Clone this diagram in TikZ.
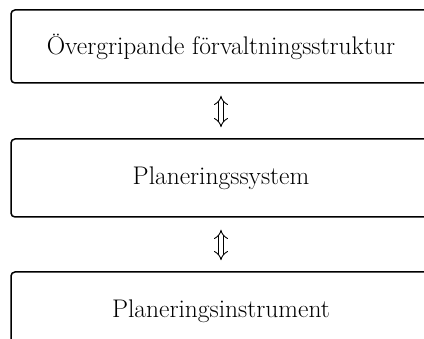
\documentclass[tikz,border=0pt]{standalone}
\usepackage{tikz}
\usetikzlibrary{arrows.meta,positioning}

\tikzset{
  levelbox/.style={draw, line width=1.5pt, rounded corners=4pt, minimum width=420pt,
    inner sep=0pt, font=\fontsize{25.5}{30}\selectfont},
  linkarrow/.style={double, double distance=4pt, line width=0.9pt,
    {Implies}-{Implies}, shorten <=12pt, shorten >=11pt}
}

\begin{document}
\begin{tikzpicture}[x=1pt,y=-1pt]
\useasboundingbox (0,0) rectangle (424,339);
\clip (0,0) rectangle (424,339);
% Levels
\node[levelbox, minimum height=73pt] (struktur) at (221,46.5) {Övergripande förvaltningsstruktur};
\node[levelbox, minimum height=78pt] (system) at (221,178) {Planeringssystem};
\node[levelbox, minimum height=78pt] (instrument) at (221,311) {Planeringsinstrument};

% Links between levels
\draw[linkarrow] (struktur) -- (system);
\draw[linkarrow] (system) -- (instrument);
\end{tikzpicture}
\end{document}
